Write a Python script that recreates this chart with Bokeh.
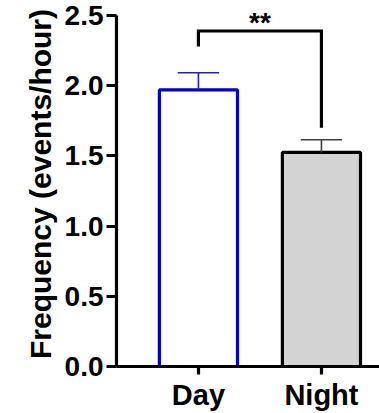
from bokeh.plotting import figure
from bokeh.models import ColumnDataSource, FixedTicker, PrintfTickFormatter, Range1d
from bokeh.embed import file_html
from bokeh.resources import INLINE
from bokeh.core.properties import value

# ---- data ----
categories = ["Day", "Night"]
means = [1.97, 1.525]
errors = [0.123, 0.09]
fill_colors = ["#ffffff", "#d3d3d3"]
line_colors = ["#0000c8", "#000000"]
err_colors = ["#2020c8", "#404040"]
y_ticks = [0.0, 0.5, 1.0, 1.5, 2.0, 2.5]
sig_label = "**"
bracket_left_bottom = 2.28
bracket_top = 2.39
bracket_right_bottom = 1.70

xs = [i + 1 for i in range(len(categories))]
FONT = "Liberation Sans"

p = figure(width=379, height=413, output_backend="svg", toolbar_location=None,
           x_range=Range1d(0.334, 2.472), y_range=Range1d(0, 2.6),
           min_border_left=116, min_border_right=0, min_border_top=1,
           min_border_bottom=47)
p.outline_line_color = None
p.xgrid.visible = False
p.ygrid.visible = False
p.background_fill_color = "white"

src = ColumnDataSource(dict(x=xs, top=means, fill=fill_colors, line=line_colors))
p.vbar(x="x", top="top", bottom=0, width=0.635, source=src,
       fill_color="fill", line_color="line", line_width=3.2)

# error bars
ex = xs
etop = [m + e for m, e in zip(means, errors)]
p.segment(x0=ex, y0=means, x1=ex, y1=etop, line_color=err_colors, line_width=1.6)
p.segment(x0=[x - 0.168 for x in ex], y0=etop, x1=[x + 0.168 for x in ex], y1=etop,
          line_color=err_colors, line_width=1.6)

# significance bracket
p.line(x=[xs[0], xs[0], xs[1], xs[1]],
       y=[bracket_left_bottom, bracket_top, bracket_top, bracket_right_bottom],
       line_color="black", line_width=3.2, line_join="miter")
p.text(x=[(xs[0] + xs[1]) / 2], y=[bracket_top + 0.06], text=[sig_label],
       text_font=value(FONT), text_font_style="bold", text_font_size="28px",
       text_align="center", text_baseline="alphabetic", text_color="black")

# y axis
yax = p.yaxis[0]
yax.ticker = FixedTicker(ticks=y_ticks)
yax.formatter = PrintfTickFormatter(format="%.1f")
yax.bounds = (0, 2.5)
yax.axis_label = "Frequency (events/hour)"
yax.axis_label_text_font = FONT
yax.axis_label_text_font_style = "bold"
yax.axis_label_text_font_size = "30px"
yax.axis_label_text_color = "black"
yax.axis_label_standoff = 5
yax.major_label_text_font = FONT
yax.major_label_text_font_style = "bold"
yax.major_label_text_font_size = "28px"
yax.major_label_text_color = "black"
yax.major_label_standoff = 3
yax.axis_line_width = 3.2
yax.major_tick_line_width = 3.2
yax.major_tick_out = 10
yax.major_tick_in = 0
yax.minor_tick_line_color = None

# x axis
xax = p.xaxis[0]
xax.ticker = FixedTicker(ticks=xs)
xax.major_label_overrides = {x: c for x, c in zip(xs, categories)}
xax.major_label_text_font = FONT
xax.major_label_text_font_style = "bold"
xax.major_label_text_font_size = "29px"
xax.major_label_text_color = "black"
xax.major_label_standoff = 4
xax.axis_line_width = 3.2
xax.major_tick_line_width = 3.2
xax.major_tick_out = 8
xax.major_tick_in = 0
xax.minor_tick_line_color = None

open("out.html", "w").write(file_html(p, INLINE))
